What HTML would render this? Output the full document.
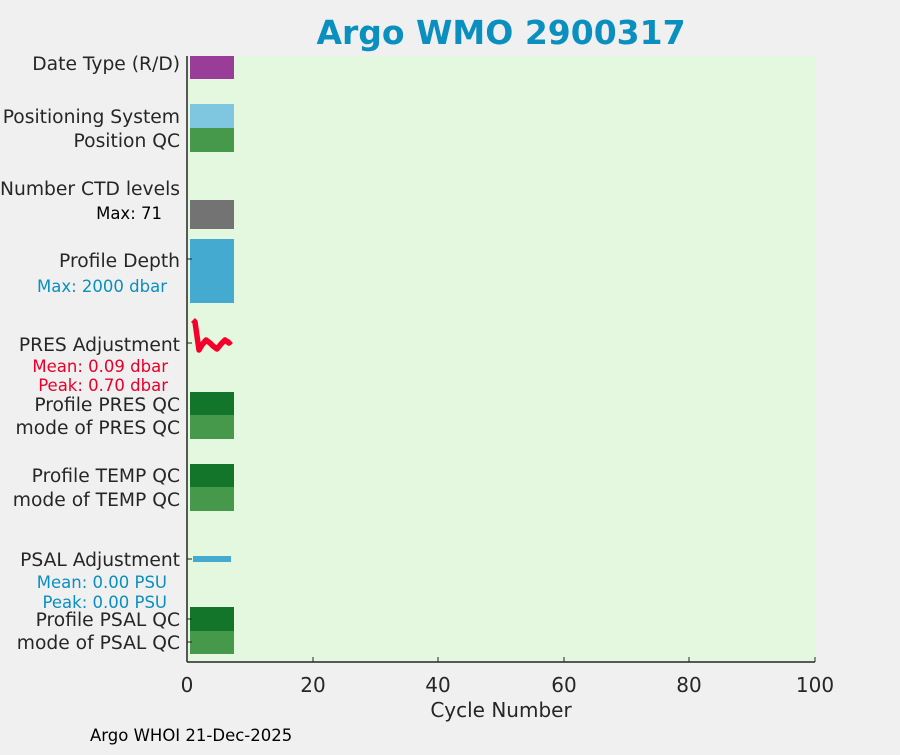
<!DOCTYPE html>
<html><head><style>
body{margin:0;background:#f0f0f0;width:900px;height:750px;overflow:hidden;font-family:"Liberation Sans","DejaVu Sans",sans-serif;}
</style></head><body>
<svg width="900" height="750" xmlns="http://www.w3.org/2000/svg" font-family="DejaVu Sans, Liberation Sans, sans-serif">
<rect width="900" height="750" fill="#f0f0f0"/>
<rect x="187" y="56" width="628" height="606" fill="#e3f8de"/>
<text x="501" y="44" text-anchor="middle" font-size="33" font-weight="bold" fill="#0a8fbf">Argo WMO 2900317</text>
<rect x="190" y="56" width="44" height="23" fill="#9a3d98"/>
<rect x="190" y="104" width="44" height="24" fill="#7fc6e0"/>
<rect x="190" y="128" width="44" height="24" fill="#46984a"/>
<rect x="190" y="200" width="44" height="29" fill="#737373"/>
<rect x="190" y="239" width="44" height="64" fill="#44aad0"/>
<rect x="190" y="392" width="44" height="23" fill="#137529"/>
<rect x="190" y="415" width="44" height="24" fill="#46984a"/>
<rect x="190" y="464" width="44" height="23" fill="#137529"/>
<rect x="190" y="487" width="44" height="24" fill="#46984a"/>
<rect x="193" y="556" width="38" height="6" fill="#44aad0"/>
<rect x="190" y="607" width="44" height="24" fill="#137529"/>
<rect x="190" y="631" width="44" height="23" fill="#46984a"/>
<polyline points="193,320 195,322 199,350 202,345 206,340 210,343 213,346 217,349 221,344 225,340 229,343 231,341" fill="none" stroke="#f5002a" stroke-width="5.5" stroke-linejoin="round"/>
<line x1="187" y1="56" x2="187" y2="662" stroke="#262626" stroke-width="1.5"/>
<line x1="187" y1="662" x2="815" y2="662" stroke="#262626" stroke-width="1.5"/>
<g stroke="#262626" stroke-width="1">
<line x1="187" y1="259" x2="192" y2="259"/><line x1="187" y1="343" x2="192" y2="343"/>
<line x1="187" y1="559" x2="192" y2="559"/><line x1="187" y1="619" x2="192" y2="619"/><line x1="187" y1="642" x2="192" y2="642"/>
<line x1="313" y1="662" x2="313" y2="657"/><line x1="438" y1="662" x2="438" y2="657"/>
<line x1="564" y1="662" x2="564" y2="657"/><line x1="689" y1="662" x2="689" y2="657"/><line x1="815" y1="662" x2="815" y2="657"/>
</g>
<g font-size="20" fill="#262626" text-anchor="middle">
<text x="187" y="692">0</text><text x="313" y="692">20</text><text x="438" y="692">40</text>
<text x="564" y="692">60</text><text x="689" y="692">80</text><text x="815" y="692">100</text>
<text x="501" y="717">Cycle Number</text>
</g>
<g font-size="18.7" fill="#262626" text-anchor="end">
<text x="180" y="70">Date Type (R/D)</text>
<text x="180" y="123">Positioning System</text>
<text x="180" y="147">Position QC</text>
<text x="180" y="195">Number CTD levels</text>
<text x="180" y="267">Profile Depth</text>
<text x="180" y="351">PRES Adjustment</text>
<text x="180" y="411">Profile PRES QC</text>
<text x="180" y="434">mode of PRES QC</text>
<text x="180" y="482">Profile TEMP QC</text>
<text x="180" y="506">mode of TEMP QC</text>
<text x="180" y="566">PSAL Adjustment</text>
<text x="180" y="626">Profile PSAL QC</text>
<text x="180" y="649">mode of PSAL QC</text>
</g>
<g font-size="16.5" text-anchor="end">
<text x="162" y="219" fill="#000">Max: 71</text>
<text x="167" y="292" fill="#0a8fbf">Max: 2000 dbar</text>
<text x="168" y="372" fill="#e8002a">Mean: 0.09 dbar</text>
<text x="168" y="391" fill="#e8002a">Peak: 0.70 dbar</text>
<text x="167" y="588" fill="#0a8fbf">Mean: 0.00 PSU</text>
<text x="167" y="608" fill="#0a8fbf">Peak: 0.00 PSU</text>
</g>
<text x="90" y="741" font-size="16.5" fill="#000">Argo WHOI 21-Dec-2025</text>
</svg>
</body></html>
